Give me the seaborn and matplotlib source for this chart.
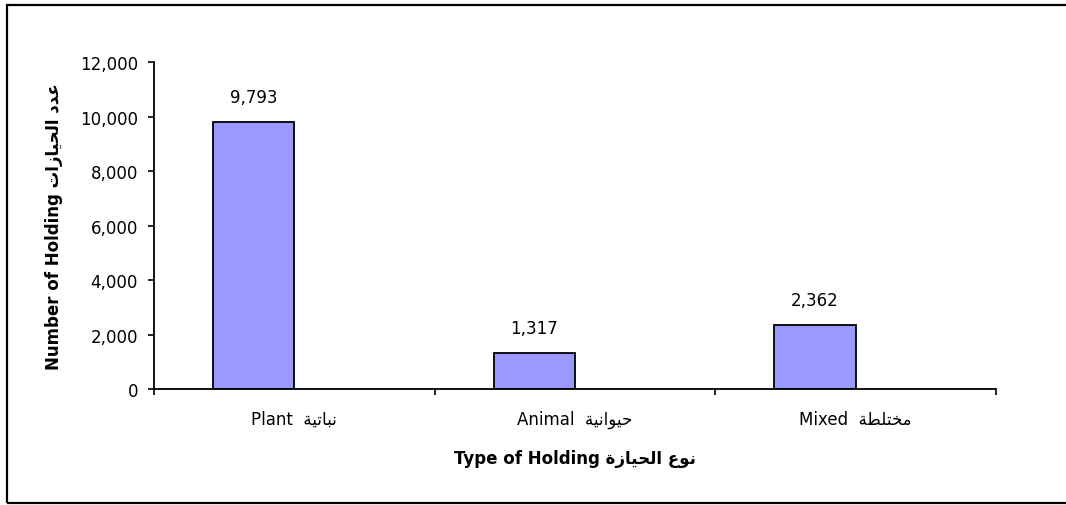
import matplotlib
matplotlib.use("Agg")
import matplotlib.pyplot as plt
from matplotlib.patches import Rectangle
from matplotlib.ticker import FuncFormatter, FixedLocator
import seaborn as sns
import pandas as pd
import numpy as np

# Arabic text is written in visual (left-to-right) order with shaped presentation forms
categories = ["Plant  \ufe94\ufef4\ufe97\ufe8e\ufe92\ufee7",
              "Animal  \ufe94\ufef4\ufee7\ufe8d\ufeee\ufef4\ufea3",
              "Mixed  \ufe94\ufec4\ufee0\ufe98\ufea8\ufee3"]
holdings = [9793, 1317, 2362]
y_ticks = [0, 2000, 4000, 6000, 8000, 10000, 12000]
x_title = "Type of Holding \ufe93\ufeaf\ufe8e\ufef4\ufea4\ufedf\ufe8d \ufec9\ufeee\ufee7"
y_title = "Number of Holding \ufe95\ufe8d\ufeaf\ufe8e\ufef4\ufea4\ufedf\ufe8d \ufea9\ufeaa\ufecb"

sns.set_theme(style="white")
plt.rcParams["font.family"] = ["DejaVu Sans"]
plt.rcParams["font.size"] = 12

# the series sits in the first of two slots per category; the second slot is empty
df = pd.DataFrame({
    "type": categories * 2,
    "count": holdings + [np.nan] * len(holdings),
    "series": ["holdings"] * len(holdings) + ["empty"] * len(holdings),
})

fig = plt.figure(figsize=(10.66, 5.06), dpi=100)
ax = fig.add_axes([0.1445, 0.2292, 0.7898, 0.6463])

sns.barplot(data=df, x="type", y="count", hue="series",
            hue_order=["holdings", "empty"], order=categories,
            palette={"holdings": "#9999FF", "empty": "#9999FF"}, saturation=1,
            width=0.58, gap=0, dodge=True, edgecolor="black", linewidth=1.3,
            legend=False, errorbar=None, ax=ax)

ax.set_xlim(-0.5, 2.5)
ax.set_ylim(0, 12000)
ax.set_yticks(y_ticks)
ax.yaxis.set_major_formatter(FuncFormatter(lambda v, p: f"{int(v):,}"))
ax.xaxis.set_minor_locator(FixedLocator([-0.5, 0.5, 1.5, 2.5]))
ax.tick_params(axis="x", which="major", length=0, pad=15, labelsize=12, colors="black")
ax.tick_params(axis="x", which="minor", length=4, width=1.2, direction="out",
               bottom=True, color="black")
ax.tick_params(axis="y", which="major", length=4.5, width=1.2, direction="out",
               left=True, pad=7, labelsize=12, colors="black")

for side in ["top", "right"]:
    ax.spines[side].set_visible(False)
for side in ["left", "bottom"]:
    ax.spines[side].set_color("black")
    ax.spines[side].set_linewidth(1.3)

ax.set_xlabel(x_title, fontsize=12, fontweight="bold", labelpad=15)
ax.set_ylabel(y_title, fontsize=12, fontweight="bold", labelpad=12)
ax.xaxis.label.set_color("black")
ax.yaxis.label.set_color("black")

# value labels above each drawn bar
for bar in ax.patches:
    h = bar.get_height()
    if np.isfinite(h) and h > 0:
        ax.annotate(f"{int(round(h)):,}", xy=(bar.get_x() + bar.get_width() / 2, h),
                    xytext=(0, 18), textcoords="offset points",
                    ha="center", va="center", fontsize=12, color="black")

# outer chart frame
fig.patches.append(Rectangle((7 / 1066, 2 / 506), 1.1, 498 / 506,
                             transform=fig.transFigure, fill=False,
                             edgecolor="black", linewidth=1.6))

fig.savefig("out.png", dpi=100, facecolor="white")
